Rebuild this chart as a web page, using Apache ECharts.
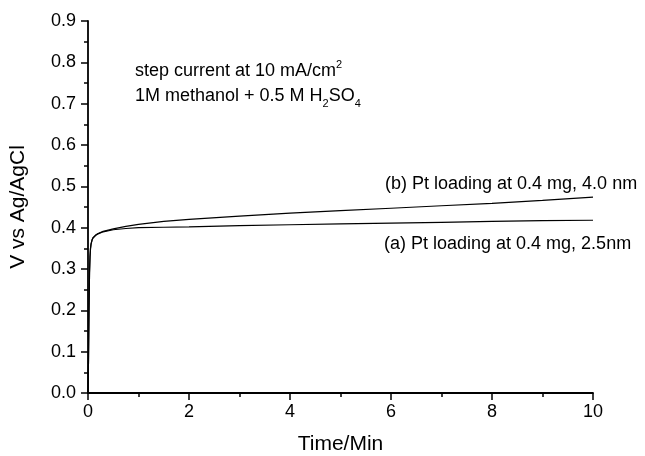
<!DOCTYPE html>
<html>
<head>
<meta charset="utf-8">
<script src="https://cdn.jsdelivr.net/npm/echarts@6/dist/echarts.min.js"></script>
<style>
  html, body {margin: 0; padding: 0; background: #fff;}
  #chart {width: 645px; height: 456px;}
</style>
</head>
<body>
<div id="chart"></div>
<script>
// time in minutes
let timeA = [0, 0.01, 0.02, 0.03, 0.04, 0.05, 0.06, 0.08, 0.1, 0.15, 0.2, 0.3, 0.5, 0.75, 1, 1.5, 2, 3, 4, 5, 6, 7, 8, 9, 10];
let voltA = [0, 0.08, 0.2, 0.29, 0.33, 0.35, 0.36, 0.37, 0.375, 0.381, 0.385, 0.39, 0.395, 0.398, 0.4, 0.401, 0.402, 0.405, 0.407, 0.409, 0.411, 0.413, 0.415, 0.417, 0.418];
let timeB = [0, 0.01, 0.02, 0.03, 0.04, 0.05, 0.06, 0.08, 0.1, 0.15, 0.2, 0.3, 0.5, 0.75, 1, 1.5, 2, 3, 4, 5, 6, 7, 8, 9, 10];
let voltB = [0, 0.08, 0.2, 0.29, 0.33, 0.35, 0.36, 0.37, 0.376, 0.382, 0.386, 0.391, 0.397, 0.403, 0.408, 0.415, 0.42, 0.428, 0.435, 0.441, 0.447, 0.453, 0.459, 0.466, 0.474];
let labelA = '(a) Pt loading at 0.4 mg, 2.5nm';
let labelB = '(b) Pt loading at 0.4 mg, 4.0 nm';

let pairs = function (xs, ys) {
    return xs.map(function (x, i) { return [x, ys[i]]; });
};

let font = 'Liberation Sans, Arial, sans-serif';
let chart = echarts.init(document.getElementById('chart'));
chart.setOption({
    animation: false,
    grid: {left: 88, right: 52, top: 21, bottom: 63, outerBoundsMode: 'none', containLabel: false},
    xAxis: {
        type: 'value', min: 0, max: 10, interval: 2,
        name: 'Time/Min', nameLocation: 'middle', nameGap: 41,
        nameTextStyle: {fontFamily: font, fontSize: 21, color: '#000'},
        axisLine: {onZero: false, lineStyle: {color: '#000', width: 1.8}},
        axisTick: {inside: false, length: 7, lineStyle: {color: '#000', width: 1.5}},
        minorTick: {show: true, splitNumber: 2, length: 4, lineStyle: {color: '#000', width: 1.5}},
        axisLabel: {fontFamily: font, fontSize: 18, color: '#000', margin: 10},
        splitLine: {show: false}
    },
    yAxis: {
        type: 'value', min: 0, max: 0.9, interval: 0.1,
        name: 'V vs Ag/AgCl', nameLocation: 'middle', nameGap: 59,
        nameTextStyle: {fontFamily: font, fontSize: 21, color: '#000'},
        axisLine: {show: true, onZero: false, lineStyle: {color: '#000', width: 1.8}},
        axisTick: {show: true, inside: false, length: 7, lineStyle: {color: '#000', width: 1.5}},
        minorTick: {show: true, splitNumber: 2, length: 4, lineStyle: {color: '#000', width: 1.5}},
        axisLabel: {
            fontFamily: font, fontSize: 18, color: '#000', margin: 12,
            formatter: function (v) { return v.toFixed(1); }
        },
        splitLine: {show: false}
    },
    series: [
        {
            name: labelA, type: 'line', data: pairs(timeA, voltA), showSymbol: false,
            lineStyle: {color: '#000', width: 1.2}
        },
        {
            name: labelB, type: 'line', data: pairs(timeB, voltB), showSymbol: false,
            lineStyle: {color: '#000', width: 1.2}
        }
    ],
    graphic: [
        {
            type: 'text', left: 135, top: 59,
            style: {
                text: 'step current at 10 mA/cm{sup|2}\n1M methanol + 0.5 M H{sub|2}SO{sub|4}',
                fontFamily: font, fontSize: 18, fill: '#000', lineHeight: 25,
                rich: {
                    sup: {fontSize: 11, verticalAlign: 'top', lineHeight: 25, padding: [0, 0, 10, 0]},
                    sub: {fontSize: 11, verticalAlign: 'bottom', lineHeight: 25, padding: [10, 0, 0, 0]}
                }
            }
        },
        {
            type: 'text', left: 385, top: 175,
            style: {text: labelB, fontFamily: font, fontSize: 18, fill: '#000'}
        },
        {
            type: 'text', left: 384, top: 235,
            style: {text: labelA, fontFamily: font, fontSize: 18, fill: '#000'}
        }
    ]
});
</script>
</body>
</html>
